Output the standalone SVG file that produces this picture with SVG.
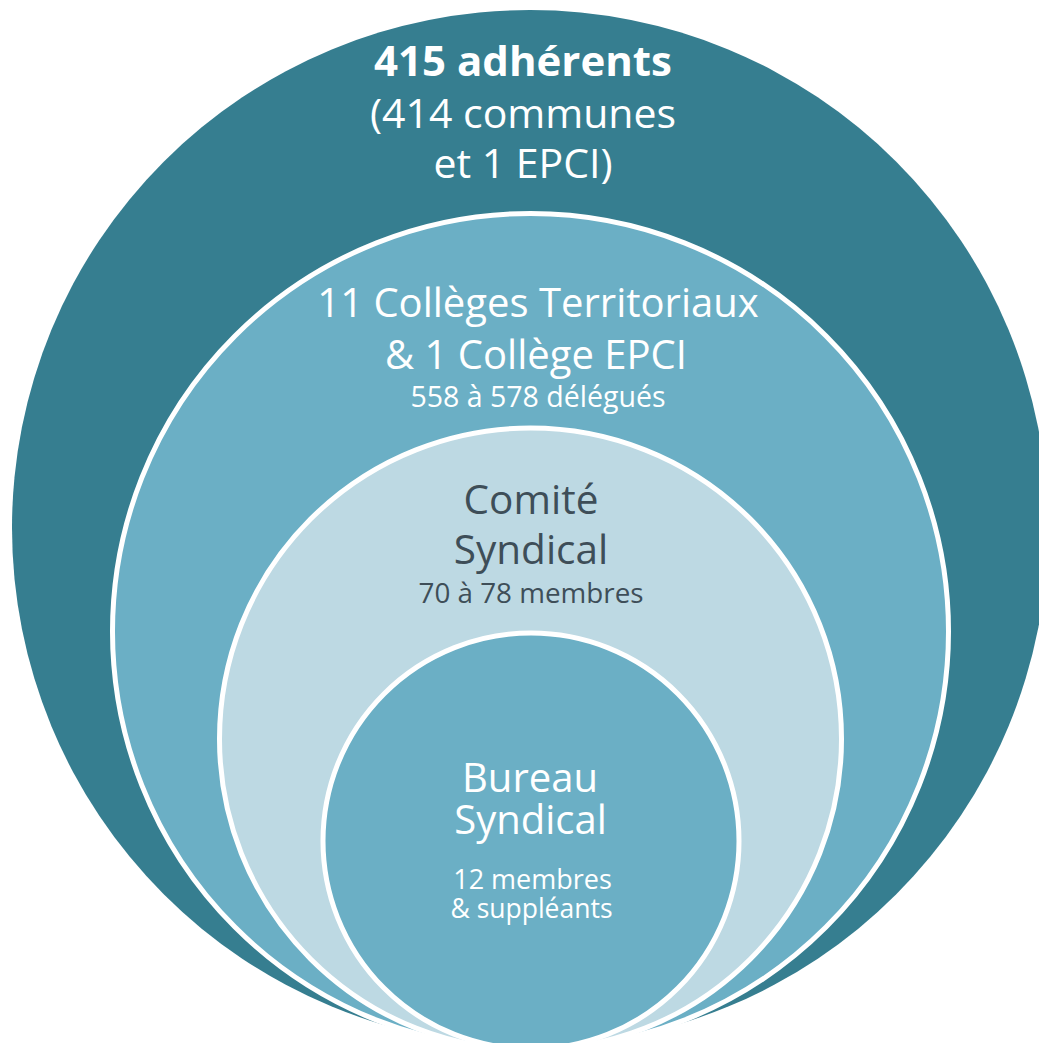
<svg xmlns="http://www.w3.org/2000/svg" width="1039" height="1043" viewBox="0 0 1039 1043">
<style>
text{font-family:"Open Sans","Liberation Sans",sans-serif;text-anchor:middle}
.w{fill:#ffffff}
.d{fill:#3e4e58}
.ring{stroke:#ffffff;stroke-width:5}
</style>
<rect width="1039" height="1043" fill="#ffffff"/>
<g id="adherents">
<circle cx="530" cy="528" r="518" fill="#367e90"/>
<text class="w" x="523" y="76" font-size="42" font-weight="bold">415 adhérents</text>
<text class="w" x="523" y="128" font-size="41">(414 communes</text>
<text class="w" x="523" y="178" font-size="41">et 1 EPCI)</text>
</g>
<g id="colleges">
<circle class="ring" cx="530.5" cy="631.5" r="418" fill="#6bafc5"/>
<text class="w" x="538" y="317" font-size="40">11 Collèges Territoriaux</text>
<text class="w" x="536" y="369" font-size="40">&amp; 1 Collège EPCI</text>
<text class="w" x="538" y="407" font-size="28.5">558 à 578 délégués</text>
</g>
<g id="comite">
<circle class="ring" cx="530.5" cy="739" r="311" fill="#bdd9e3"/>
<text class="d" x="531" y="514" font-size="40.5">Comité</text>
<text class="d" x="531" y="564" font-size="40.5">Syndical</text>
<text class="d" x="531" y="603" font-size="27.8">70 à 78 membres</text>
</g>
<g id="bureau">
<circle class="ring" cx="531" cy="841" r="208" fill="#6bafc5"/>
<text class="w" x="530" y="792" font-size="40">Bureau</text>
<text class="w" x="530.5" y="834" font-size="40">Syndical</text>
<text class="w" x="532.5" y="889" font-size="27">12 membres</text>
<text class="w" x="531.5" y="918" font-size="26.5">&amp; suppléants</text>
</g>
<g id="connectors"/>
</svg>
